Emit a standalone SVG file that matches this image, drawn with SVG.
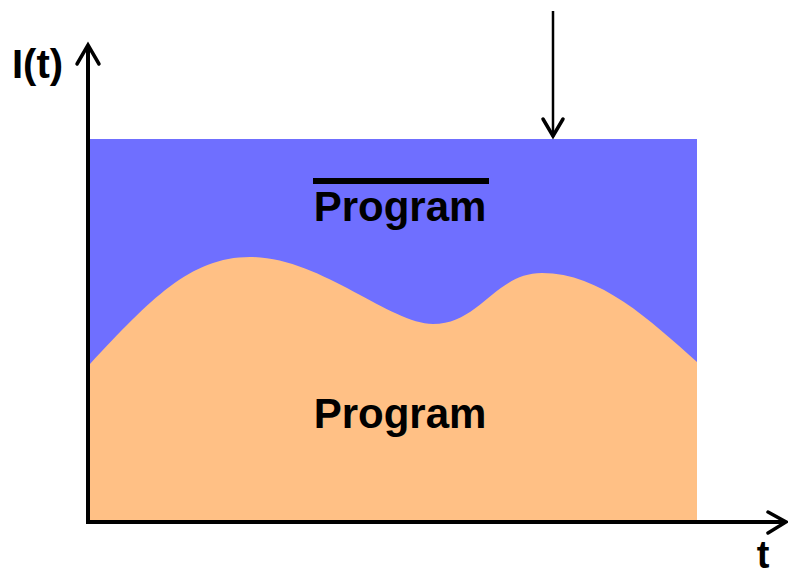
<svg xmlns="http://www.w3.org/2000/svg" width="788" height="574" viewBox="0 0 788 574">
  <style>
    .axis { stroke: #000; stroke-width: 4; fill: none; }
    .head { stroke: #000; stroke-width: 3.5; fill: none; stroke-linecap: round; stroke-linejoin: miter; }
    .thin { stroke: #000; stroke-width: 2.5; fill: none; }
    .lbl { font-family: "Liberation Sans", Arial, sans-serif; font-weight: bold; fill: #000; }
  </style>
  <rect width="788" height="574" fill="#fff"/>

  <!-- upper region -->
  <g id="upper">
    <rect x="90" y="139" width="607" height="383" fill="#6F6FFF"/>
  </g>

  <!-- lower region bounded by the wavy curve -->
  <g id="lower">
    <path d="M90,364 C150,300 190,257 250,257 C320,257 390,324 433,324 C480,324 495,273 542,273 C600,273 650,320 697,362 L697,522 L90,522 Z" fill="#FFC085"/>
  </g>

  <g id="connectors">
    <!-- vertical axis -->
    <line class="axis" x1="88" y1="524" x2="88" y2="45"/>
    <polyline class="head" points="77,64 88,45 99,64"/>
    <!-- horizontal axis -->
    <line class="axis" x1="86" y1="522" x2="785" y2="522"/>
    <polyline class="head" points="768,512 786,522 768,533"/>
    <!-- downward arrow -->
    <line class="thin" x1="553" y1="11" x2="553" y2="137"/>
    <polyline class="head" points="543,119 553,136 563,119"/>
  </g>

  <g id="labels">
    <text class="lbl" x="12" y="78" font-size="40">I(t)</text>
    <text class="lbl" x="763" y="568" font-size="38" text-anchor="middle">t</text>
    <rect x="313" y="178" width="176" height="6" fill="#000"/>
    <text class="lbl" x="400" y="221" font-size="42" text-anchor="middle">Program</text>
    <text class="lbl" x="400" y="428" font-size="42" text-anchor="middle">Program</text>
  </g>
</svg>
